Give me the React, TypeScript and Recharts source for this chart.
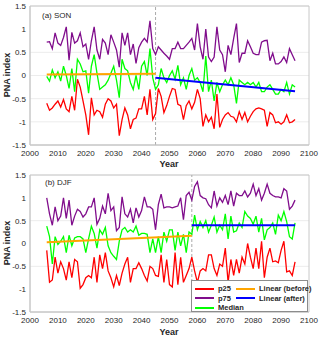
import { LineChart, Line, XAxis, YAxis, CartesianGrid, ReferenceLine, ReferenceArea } from 'recharts';

const years = Array.from({ length: 90 }, (_, i) => 2006 + i);
const xTicks = [2000, 2010, 2020, 2030, 2040, 2050, 2060, 2070, 2080, 2090, 2100];
const yTicks = [-1.5, -1, -0.5, 0, 0.5, 1, 1.5];

// (a) SON
const sonP75 = [
  0.72, 0.73, 0.58, 0.92, 0.70, 0.65, 0.82, 1.05, 0.33, 0.93,
  0.70, 0.75, 0.92, 0.62, 0.68, 0.35, 0.75, 1.05, 0.55, 0.35,
  0.78, 0.70, 0.45, 0.88, 0.72, 0.55, 0.18, 0.92, 0.65, 0.92,
  0.45, 0.68, 0.26, 0.60, 0.72, 0.80, 0.72, 1.18, 0.58, 0.45,
  0.62, 0.55, 0.48, 0.42, 0.35, 0.58, 0.58, 0.72, 0.58, 0.58,
  0.65, 0.72, 0.80, 0.55, 1.12, 0.62, 0.35, 1.00, 0.40, 0.30,
  0.40, 1.05, 0.55, 0.45, 0.08, 0.65, 0.45, 0.80, 1.12, 0.28,
  0.48, 0.48, 0.75, 0.62, 0.48, 0.45, 0.45, 0.72, 0.75, 0.76,
  0.32, 0.48, 0.25, 0.25, 0.30, 0.40, 0.28, 0.58, 0.45, 0.32,
];
const sonMedian = [
  -0.02, -0.12, 0.12, -0.05, 0.08, -0.12, 0.20, 0.00, -0.28, 0.15,
  -0.35, 0.35, 0.25, 0.08, 0.10, -0.38, 0.20, 0.45, 0.05, -0.30,
  -0.25, -0.20, -0.10, 0.05, 0.20, -0.10, -0.48, 0.35, 0.15, 0.10,
  -0.15, -0.30, 0.00, -0.30, 0.20, 0.30, 0.00, 0.58, -0.05, -0.30,
  -0.20, 0.15, -0.05, -0.15, 0.00, 0.10, -0.08, 0.22, -0.20, -0.05,
  -0.30, 0.00, 0.15, -0.10, -0.05, -0.15, -0.35, 0.42, -0.35, -0.10,
  -0.55, -0.15, -0.35, -0.20, -0.10, -0.20, -0.05, -0.20, -0.60, -0.10,
  -0.15, -0.20, -0.15, -0.20, -0.15, -0.25, -0.15, -0.35, -0.35, -0.25,
  -0.20, -0.30, -0.40, -0.40, -0.30, -0.35, -0.15, -0.40, -0.20, -0.25,
];
const sonP25 = [
  -0.60, -0.75, -0.70, -0.62, -0.55, -0.68, -0.52, -0.72, -0.78, -0.45,
  -0.75, -0.08, -0.25, -0.55, -0.85, -1.28, -0.48, -0.85, -0.75, -0.78,
  -0.90, -0.62, -0.50, -0.55, -0.70, -0.62, -1.30, -0.95, -0.70, -0.85,
  -1.15, -0.95, -0.92, -0.72, -0.72, -0.45, -0.85, -0.30, -0.95, -0.82,
  -0.28, -0.45, -0.80, -0.65, -0.45, -0.28, -0.30, -0.62, -0.65, -0.95,
  -0.65, -0.55, -0.72, -0.58, -0.30, -0.50, -1.10, -0.85, -1.00, -0.90,
  -1.15, -0.40, -1.12, -0.95, -0.85, -0.80, -0.88, -0.90, -1.00, -0.78,
  -0.95, -0.80, -1.00, -0.88, -0.78, -0.72, -0.70, -0.72, -0.75, -1.10,
  -0.80, -0.85, -1.02, -1.00, -1.05, -1.00, -0.85, -1.02, -1.00, -0.95,
];
const sonBreak = 2045;
const sonBeforeYears = [2006, 2045];
const sonBeforeValues = [0.02, 0.04];
const sonAfterYears = [2045, 2095];
const sonAfterValues = [-0.05, -0.34];

// (b) DJF
const djfP75 = [
  1.00, 0.65, 0.40, 0.80, 0.50, 0.60, 1.00, 0.55, 0.95, 0.40,
  0.60, 0.75, 0.70, 0.58, 0.65, 0.80, 0.80, 1.00, 0.42, 0.55,
  0.82, 0.65, 1.10, 0.72, 0.80, 0.28, 0.35, 1.02, 0.65, 0.58,
  0.75, 0.45, 0.78, 0.58, 0.72, 1.02, 0.80, 0.80, 0.75, 0.30,
  0.85, 1.08, 0.78, 0.80, 0.80, 0.78, 0.80, 0.82, 1.00, 0.52,
  1.05, 1.12, 0.95, 1.25, 1.35, 1.05, 1.00, 0.98, 0.85, 0.78,
  1.15, 0.82, 1.00, 0.90, 1.05, 0.85, 1.15, 0.82, 1.10, 1.05,
  1.05, 1.15, 1.02, 1.10, 1.30, 1.05, 1.20, 0.95, 1.10, 1.30,
  1.10, 1.05, 1.02, 1.02, 1.00, 1.20, 1.15, 0.75, 0.82, 0.95,
];
const djfMedian = [
  0.38, 0.15, -0.45, 0.15, -0.02, 0.05, 0.15, -0.20, 0.18, -0.05,
  0.12, 0.15, 0.15, 0.10, -0.20, 0.10, 0.38, 0.22, -0.10, 0.30,
  0.20, 0.35, -0.05, -0.20, -0.28, -0.35, 0.05, 0.30, 0.35, 0.25,
  0.30, 0.25, 0.38, 0.18, 0.22, 0.22, 0.20, -0.20, 0.10, -0.20,
  0.15, -0.20, 0.25, 0.05, 0.30, 0.30, -0.15, 0.25, -0.05, 0.20,
  -0.20, 0.25, 0.20, 0.62, 0.30, 0.48, 0.35, 0.50, 0.25, 0.40,
  0.58, 0.25, 0.40, 0.30, 0.65, 0.10, 0.60, 0.25, 0.28, 0.45,
  0.35, 0.70, 0.60, 0.55, 0.42, 0.60, 0.25, 0.55, 0.08, 0.30,
  0.35, 0.45, 0.20, 0.62, 0.50, 0.70, 0.48, 0.15, 0.10, 0.45,
];
const djfP25 = [
  -0.15, -0.85, -0.80, -0.30, -0.65, -0.40, -0.55, -0.80, -0.40, -0.75,
  -0.35, -0.40, -0.98, -0.90, -0.75, -0.70, -0.75, -0.30, -0.85, -0.25,
  -0.55, -0.20, -0.60, -0.75, -0.95, -0.70, -0.92, -0.65, -0.45, -0.30,
  -0.85, -0.55, -0.55, -0.42, -0.55, -0.70, -0.82, -0.50, -0.55, -0.70,
  -0.72, -0.25, -0.85, -0.35, -0.90, -0.95, -0.20, -0.90, -0.30, -0.85,
  -0.70, -0.55, -0.30, -0.60, -0.85, -0.60, -0.55, -0.60, -0.25, -0.25,
  -0.55, -0.70, -0.45, -0.50, -0.10, -0.85, -0.35, -0.70, -0.35, -0.65,
  -0.30, -0.45, 0.00, -0.30, -0.55, -0.10, -0.55, 0.05, -0.75, -0.30,
  -0.10, -0.40, -0.38, -0.42, -0.15, 0.05, -0.62, -0.60, -0.70, -0.40,
];
const djfBreak = 2058;
const djfBeforeYears = [2006, 2058];
const djfBeforeValues = [0.03, 0.17];
const djfAfterYears = [2058, 2095];
const djfAfterValues = [0.4, 0.4];

const legendItems = [
  { name: 'p25', color: '#ff0000', col: 0, row: 0 },
  { name: 'p75', color: '#800d8c', col: 0, row: 1 },
  { name: 'Median', color: '#00ff00', col: 0, row: 2 },
  { name: 'Linear (before)', color: '#ffa500', col: 1, row: 0 },
  { name: 'Linear (after)', color: '#0000ff', col: 1, row: 1 },
];

const font = '"Liberation Sans", Arial, sans-serif';
const tickStyle = { fill: '#262626', fontSize: 8, fontFamily: font };

type PanelProps = {
  p25: number[],
  p75: number[],
  median: number[],
  breakYear: number,
  beforeYears: number[],
  beforeValues: number[],
  afterYears: number[],
  afterValues: number[],
  marginTop: number,
  axisHeight: number,
};

function Panel({ p25, p75, median, breakYear, beforeYears, beforeValues, afterYears, afterValues, marginTop, axisHeight }: PanelProps) {
  const data = years.map((year, i) => ({ year, p25: p25[i], p75: p75[i], median: median[i] }));
  const before = beforeYears.map((year, i) => ({ year, trend: beforeValues[i] }));
  const after = afterYears.map((year, i) => ({ year, trend: afterValues[i] }));
  return (
    <LineChart width={320} height={169} data={data} margin={{ top: marginTop, right: 11, left: 0, bottom: 0 }}>
      <CartesianGrid horizontal vertical={false} stroke="#ececec" />
      <XAxis
        dataKey="year"
        type="number"
        domain={[2000, 2100]}
        ticks={xTicks}
        height={axisHeight}
        tickLine={false}
        tickSize={0}
        axisLine={{ stroke: '#c8c8c8' }}
        tick={tickStyle}
        tickMargin={5}
      />
      <YAxis
        type="number"
        domain={[-1.5, 1.5]}
        ticks={yTicks}
        width={30}
        tickLine={false}
        tickSize={0}
        axisLine={{ stroke: '#c8c8c8' }}
        tick={tickStyle}
        tickMargin={4}
      />
      <ReferenceArea x1={2000} x2={2100} y1={-1.5} y2={1.5} fill="none" stroke="#c8c8c8" />
      <ReferenceLine x={breakYear} stroke="#aaaaaa" strokeDasharray="3 2" />
      <Line dataKey="p25" stroke="#ff0000" strokeWidth={1.3} dot={false} isAnimationActive={false} />
      <Line dataKey="p75" stroke="#800d8c" strokeWidth={1.3} dot={false} isAnimationActive={false} />
      <Line dataKey="median" stroke="#00ff00" strokeWidth={1.3} dot={false} isAnimationActive={false} />
      <Line data={before} dataKey="trend" stroke="#ffa500" strokeWidth={2} dot={false} isAnimationActive={false} />
      <Line data={after} dataKey="trend" stroke="#0000ff" strokeWidth={2} dot={false} isAnimationActive={false} />
    </LineChart>
  );
}

const textBase: React.CSSProperties = { position: 'absolute', fontFamily: font, color: '#262626', whiteSpace: 'nowrap', lineHeight: 1 };

export default function App() {
  return (
    <div style={{ position: 'absolute', left: 0, top: 0, width: 320, height: 338, background: '#fff', overflow: 'hidden' }}>
      <div style={{ position: 'absolute', left: 0, top: 0 }}>
        <Panel p25={sonP25} p75={sonP75} median={sonMedian} breakYear={sonBreak}
          beforeYears={sonBeforeYears} beforeValues={sonBeforeValues}
          afterYears={sonAfterYears} afterValues={sonAfterValues}
          marginTop={6} axisHeight={24} />
      </div>
      <div style={{ position: 'absolute', left: 0, top: 169 }}>
        <Panel p25={djfP25} p75={djfP75} median={djfMedian} breakYear={djfBreak}
          beforeYears={djfBeforeYears} beforeValues={djfBeforeValues}
          afterYears={djfAfterYears} afterValues={djfAfterValues}
          marginTop={6} axisHeight={26} />
      </div>

      <div style={{ ...textBase, left: 42, top: 12, fontSize: 8 }}>(a) SON</div>
      <div style={{ ...textBase, left: 45, top: 179, fontSize: 8 }}>(b) DJF</div>

      <div style={{ ...textBase, left: 169, top: 160, fontSize: 9, fontWeight: 'bold', transform: 'translateX(-50%)' }}>Year</div>
      <div style={{ ...textBase, left: 169, top: 328, fontSize: 9, fontWeight: 'bold', transform: 'translateX(-50%)' }}>Year</div>

      <div style={{ ...textBase, left: 7, top: 75, fontSize: 9, fontWeight: 'bold', transform: 'translate(-50%, -50%) rotate(-90deg)' }}>PNA index</div>
      <div style={{ ...textBase, left: 7, top: 243, fontSize: 9, fontWeight: 'bold', transform: 'translate(-50%, -50%) rotate(-90deg)' }}>PNA index</div>

      <div style={{ position: 'absolute', left: 191, top: 280, width: 117, height: 32, background: '#fff', border: '1px solid #8c8c8c', boxSizing: 'border-box' }}>
        {legendItems.map((item) => (
          <div key={item.name} style={{ position: 'absolute', left: 3 + item.col * 41, top: 3 + item.row * 9.5, height: 9, display: 'flex', alignItems: 'center' }}>
            <div style={{ width: 19, height: 2, background: item.color, marginRight: 4 }} />
            <span style={{ fontFamily: font, fontSize: 7.5, fontWeight: 'bold', color: '#262626', whiteSpace: 'nowrap' }}>{item.name}</span>
          </div>
        ))}
      </div>
    </div>
  );
}
